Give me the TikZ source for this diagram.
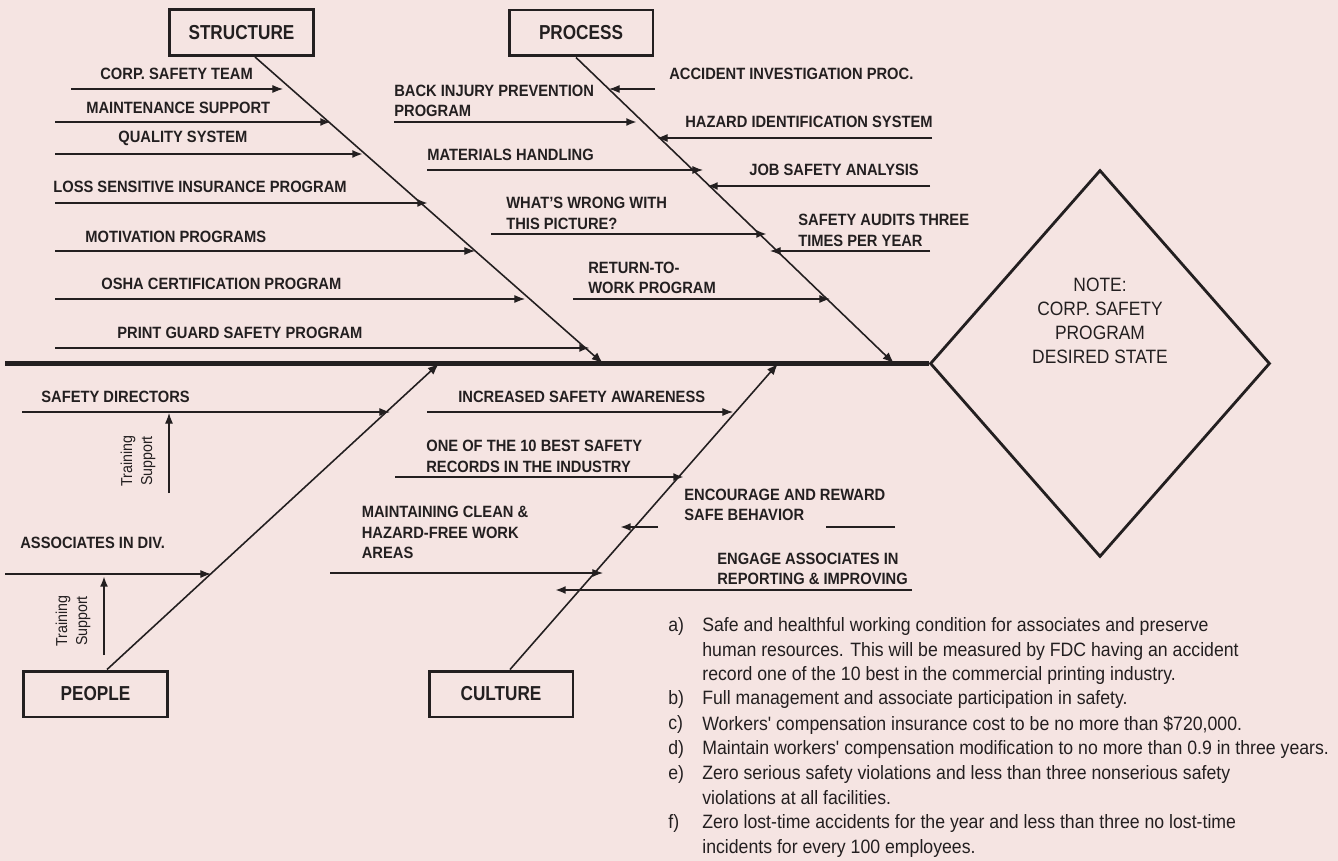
\documentclass[tikz,border=0pt]{standalone}
\usepackage{fontspec}
\setmainfont{Liberation Sans}[FakeStretch=0.9]
\newfontfamily\boxfont{Liberation Sans}[FakeStretch=0.85]
\newfontfamily\goalfont{Liberation Sans}[FakeStretch=0.915]
\usetikzlibrary{arrows.meta, shapes.geometric, calc}
\definecolor{bgpink}{RGB}{245,228,226}
\definecolor{ink}{RGB}{35,31,32}

\tikzset{
  rib/.style={ink, line width=0.6pt, -{Latex[length=6pt,width=4.5pt]}},
  ribb/.style={rib, line width=1.2pt},
  bone/.style={ink, line width=0.9pt, -{Latex[length=6.5pt,width=5pt]}},
  catbox/.style={draw=ink, line width=1.7pt, minimum width=2.88cm, minimum height=0.92cm,
    inner sep=0pt, text=ink, font=\boxfont\bfseries\fontsize{11.5}{13}\selectfont},
  lbl/.style={anchor=west, align=left, inner sep=0pt, text=ink,
    font=\bfseries\fontsize{9.3}{11.7}\selectfont},
  tsup/.style={rotate=90, align=center, inner sep=0pt, text=ink,
    font=\fontsize{9}{11.3}\selectfont},
  goal/.style={anchor=north west, align=left, inner sep=0pt, text=ink,
    font=\goalfont\fontsize{11}{13.9}\selectfont},
}

\begin{document}
\begin{tikzpicture}[x=0.02cm, y=-0.02cm]
\fill[bgpink] (0,0) rectangle (1338,861);
\useasboundingbox (0,0) rectangle (1338,861);

% category boxes
\node[catbox] (str) at (241.5,32.5) {STRUCTURE};
\node[catbox] (proc) at (581,33) {PROCESS};
\node[catbox] (ppl) at (95.5,694) {PEOPLE};
\node[catbox] (cult) at (501,694) {CULTURE};

% head of the fish
\node[draw=ink, line width=1.6pt, shape=diamond, minimum width=6.8cm,
  minimum height=7.74cm, inner sep=0pt] (head) at (1100,363.5) {};
\node[align=center, text=ink, font=\fontsize{11}{13.6}\selectfont] (note) at (1100,321)
  {NOTE:\\CORP. SAFETY\\PROGRAM\\DESIRED STATE};

% spine and main bones
\coordinate (tail) at (5,363.5);
\draw[ink, line width=2.3pt] (tail) -- (head.west);
\coordinate (strEnd) at (603,363.5);
\coordinate (procEnd) at (894,363.5);
\coordinate (pplEnd) at (439,363.5);
\coordinate (cultEnd) at (778,363.5);
\draw[bone] ([xshift=0.27cm]str.south) -- (strEnd);
\draw[bone] ([xshift=-0.1cm]proc.south) -- (procEnd);
\draw[bone] ([xshift=0.23cm]ppl.north) -- (pplEnd);
\draw[bone] ([xshift=0.18cm]cult.north) -- (cultEnd);

% ribs: name/start/end/y/style
\foreach \nm/\xa/\xb/\yy/\st in {cst/71/283/89/rib, mnt/55/331/122/ribb, qs/55/363/154/ribb,
    lsi/55/428/203/ribb, mot/55/475/251/rib, osha/55/525/299/rib, pg/55/590/348/ribb,
    acc/655/609/89/rib, bip/394/637/122/ribb, haz/932/657/138/rib, mat/427/703/170/rib,
    jsa/930/707/186/ribb, www/491/767/234/ribb, sa/930/770/251/rib, rtw/573/830/299/rib,
    sd/22/390/412/rib, aid/5/211/574/rib,
    isa/427/733/412/rib, otb/395/684/477/ribb, mc/330/603/573/rib, eng/912/555/590/ribb}{
  \coordinate (\nm0) at (\xa,\yy);
  \coordinate (\nm1) at (\xb,\yy);
  \draw[\st] (\nm0) -- (\nm1);
}
\coordinate (enc0) at (895,527);
\coordinate (encA) at (826,527);
\coordinate (encB) at (658,527);
\coordinate (enc1) at (620,527);
\draw[ribb] (enc0) -- (encA) (encB) -- (enc1);

% training support arrows
\coordinate (ts10) at (169,493);
\coordinate (ts11) at (169,413);
\coordinate (ts20) at (104,655);
\coordinate (ts21) at (104,576);
\draw[rib] (ts10) -- (ts11);
\draw[ribb] (ts20) -- (ts21);
\node[tsup] (ts1L) at (138,461) {Training\\Support};
\node[tsup] (ts2L) at (73,621) {Training\\Support};

% structure labels
\node[lbl] (cstL) at (100,74) {CORP. SAFETY TEAM};
\node[lbl] (mntL) at (86,108) {MAINTENANCE SUPPORT};
\node[lbl] (qsL) at (118,138) {QUALITY SYSTEM};
\node[lbl] (lsiL) at (53,187) {LOSS SENSITIVE INSURANCE PROGRAM};
\node[lbl] (motL) at (85,237) {MOTIVATION PROGRAMS};
\node[lbl] (oshaL) at (101,284) {OSHA CERTIFICATION PROGRAM};
\node[lbl] (pgL) at (117,333) {PRINT GUARD SAFETY PROGRAM};

% process labels
\node[lbl] (accL) at (669,74) {ACCIDENT INVESTIGATION PROC.};
\node[lbl] (bipL) at (394,101) {BACK INJURY PREVENTION\\PROGRAM};
\node[lbl] (hazL) at (685,122) {HAZARD IDENTIFICATION SYSTEM};
\node[lbl] (matL) at (427,155) {MATERIALS HANDLING};
\node[lbl] (jsaL) at (749,170) {JOB SAFETY ANALYSIS};
\node[lbl] (wwwL) at (506,213.5) {WHAT'S WRONG WITH\\THIS PICTURE?};
\node[lbl] (saL) at (798,230.5) {SAFETY AUDITS THREE\\TIMES PER YEAR};
\node[lbl] (rtwL) at (588,278) {RETURN-TO-\\WORK PROGRAM};

% people labels
\node[lbl] (sdL) at (41,397) {SAFETY DIRECTORS};
\node[lbl] (aidL) at (20,543) {ASSOCIATES IN DIV.};

% culture labels
\node[lbl] (isaL) at (458,397) {INCREASED SAFETY AWARENESS};
\node[lbl] (otbL) at (426,456.5) {ONE OF THE 10 BEST SAFETY\\RECORDS IN THE INDUSTRY};
\node[lbl] (encL) at (684,505) {ENCOURAGE AND REWARD\\SAFE BEHAVIOR};
\node[lbl] (mcL) at (361.5,532.5) {MAINTAINING CLEAN \&\\HAZARD-FREE WORK\\AREAS};
\node[lbl] (engL) at (717,569) {ENGAGE ASSOCIATES IN\\REPORTING \& IMPROVING};

% desired state list
\node[goal] (ga) at (668,617.5) {a)};
\node[goal] (gaT) at (702,617.5) {Safe and healthful working condition for associates and preserve\\
  human resources. This will be measured by FDC having an accident\\
  record one of the 10 best in the commercial printing industry.};
\node[goal] (gb) at (668,690.5) {b)};
\node[goal] (gbT) at (702,690.5) {Full management and associate participation in safety.};
\node[goal] (gc) at (668,715.5) {c)};
\node[goal] (gcT) at (702,715.5) {Workers' compensation insurance cost to be no more than \$720,000.};
\node[goal] (gd) at (668,740.5) {d)};
\node[goal] (gdT) at (702,740.5) {Maintain workers' compensation modification to no more than 0.9 in three years.};
\node[goal] (ge) at (668,765.5) {e)};
\node[goal] (geT) at (702,765.5) {Zero serious safety violations and less than three nonserious safety\\
  violations at all facilities.};
\node[goal] (gf) at (668,814.5) {f)};
\node[goal] (gfT) at (702,814.5) {Zero lost-time accidents for the year and less than three no lost-time\\
  incidents for every 100 employees.};
\end{tikzpicture}
\end{document}
